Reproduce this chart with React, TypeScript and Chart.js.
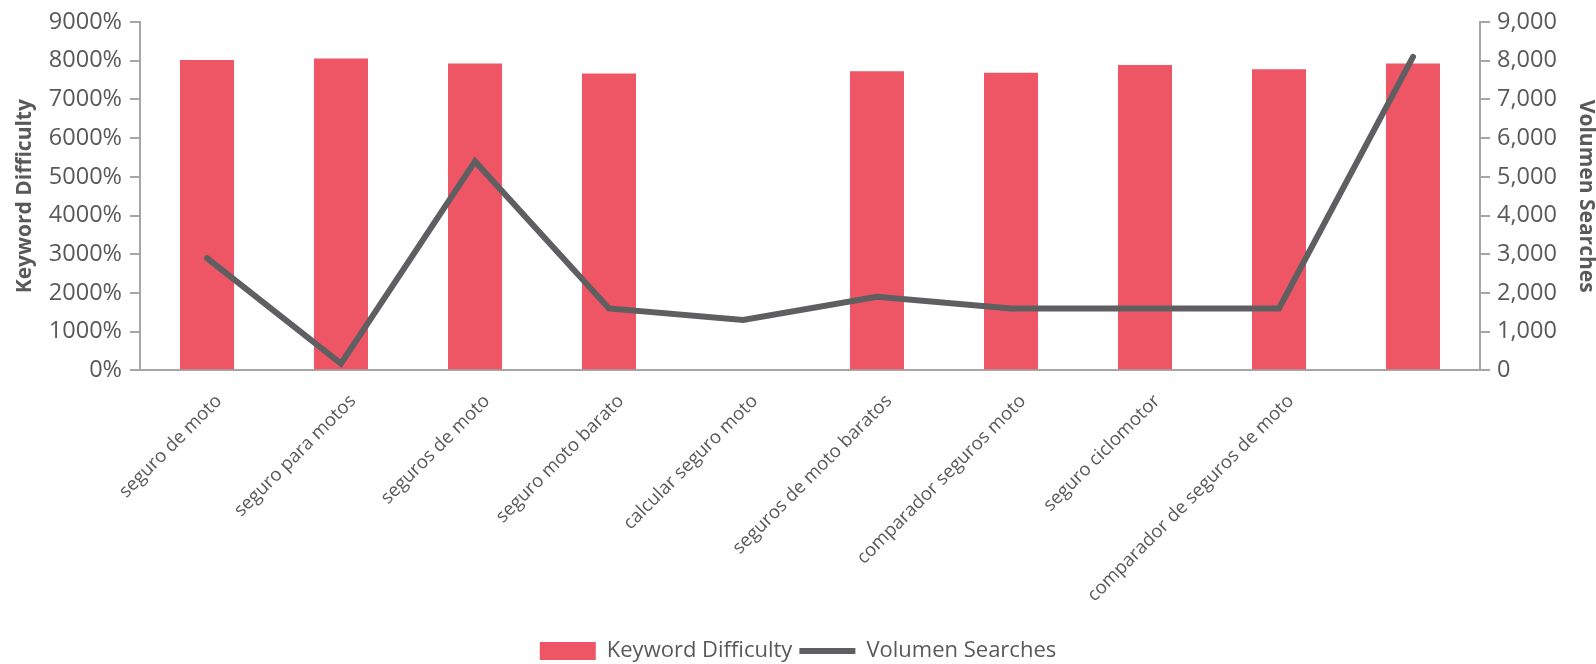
import React, { useEffect, useRef } from "react";
import { Chart, registerables } from "chart.js";

Chart.register(...registerables);

const categories = [
  "seguro de moto",
  "seguro para motos",
  "seguros de moto",
  "seguro moto barato",
  "calcular seguro moto",
  "seguros de moto baratos",
  "comparador seguros moto",
  "seguro ciclomotor",
  "comparador de seguros de moto",
  "",
];

const keywordDifficulty: (number | null)[] = [8020, 8060, 7930, 7670, null, 7730, 7690, 7890, 7780, 7930];
const volumenSearches = [2900, 170, 5400, 1600, 1300, 1900, 1600, 1600, 1600, 8100];

const leftTicks = [0, 1000, 2000, 3000, 4000, 5000, 6000, 7000, 8000, 9000];
const rightTicks = [0, 1000, 2000, 3000, 4000, 5000, 6000, 7000, 8000, 9000];

const BAR_COLOR = "#EE5666";
const LINE_COLOR = "#5F5F62";
const AXIS_COLOR = "#A6A6A6";
const TEXT_COLOR = "#595959";

export default function App() {
  const canvasRef = useRef<HTMLCanvasElement | null>(null);

  useEffect(() => {
    document.body.style.margin = "0";
    const canvas = canvasRef.current;
    if (!canvas) return;
    Chart.defaults.font.family = "'Open Sans', sans-serif";
    Chart.defaults.color = TEXT_COLOR;

    const chart = new Chart(canvas, {
      type: "bar",
      data: {
        labels: categories,
        datasets: [
          {
            type: "bar",
            label: "Keyword Difficulty",
            data: keywordDifficulty,
            backgroundColor: BAR_COLOR,
            borderWidth: 0,
            yAxisID: "y",
            categoryPercentage: 1,
            barPercentage: 0.403,
            order: 1,
            pointStyle: "rect",
          } as any,
          {
            type: "line",
            label: "Volumen Searches",
            data: volumenSearches,
            borderColor: LINE_COLOR,
            backgroundColor: LINE_COLOR,
            borderWidth: 6,
            pointRadius: 0,
            pointHoverRadius: 0,
            tension: 0,
            borderCapStyle: "round",
            borderJoinStyle: "miter",
            yAxisID: "y1",
            order: 0,
            pointStyle: "line",
            clip: false,
          } as any,
        ],
      },
      options: {
        animation: false,
        responsive: false,
        maintainAspectRatio: false,
        layout: { padding: { top: 19, left: 0, right: 0, bottom: -8 } },
        plugins: {
          tooltip: { enabled: false },
          legend: {
            position: "bottom",
            reverse: true,
            labels: {
              usePointStyle: true,
              pointStyleWidth: 56,
              boxHeight: 18,
              padding: 7,
              color: TEXT_COLOR,
              font: { size: 22 },
            },
          },
        },
        scales: {
          x: {
            grid: { display: false, drawTicks: false },
            border: { display: true, color: AXIS_COLOR, width: 2 },
            ticks: {
              minRotation: 45,
              maxRotation: 45,
              autoSkip: false,
              padding: 20,
              labelOffset: 12,
              color: TEXT_COLOR,
              font: { size: 18.5 },
            },
            afterFit: (scale: any) => {
              scale.height = 262.7;
            },
          },
          y: {
            position: "left",
            min: 0,
            max: 9000,
            afterBuildTicks: (scale: any) => {
              scale.ticks = leftTicks.map((v) => ({ value: v }));
            },
            grid: {
              drawOnChartArea: false,
              drawTicks: true,
              tickLength: 10,
              color: AXIS_COLOR,
              lineWidth: 2,
            },
            border: { display: true, color: AXIS_COLOR, width: 2 },
            ticks: {
              padding: 8,
              color: TEXT_COLOR,
              font: { size: 23.5 },
              callback: (v: any) => `${v}%`,
            },
            title: {
              display: true,
              text: "Keyword Difficulty",
              color: TEXT_COLOR,
              font: { size: 21, weight: "bold", lineHeight: 1 },
              padding: { top: 14.5, bottom: 0 },
            },
            afterFit: (scale: any) => {
              scale.width = 140;
            },
          },
          y1: {
            position: "right",
            min: 0,
            max: 9000,
            afterBuildTicks: (scale: any) => {
              scale.ticks = rightTicks.map((v) => ({ value: v }));
            },
            grid: {
              drawOnChartArea: false,
              drawTicks: true,
              tickLength: 10,
              color: AXIS_COLOR,
              lineWidth: 2,
            },
            border: { display: true, color: AXIS_COLOR, width: 2 },
            ticks: {
              padding: 7,
              color: TEXT_COLOR,
              font: { size: 23.5 },
              callback: (v: any) => Number(v).toLocaleString("en-US"),
            },
            title: {
              display: true,
              text: "Volumen Searches",
              color: TEXT_COLOR,
              font: { size: 21, weight: "bold", lineHeight: 1 },
              padding: { top: 0, bottom: 0 },
            },
            afterFit: (scale: any) => {
              scale.width = 116;
            },
          },
        },
      },
    });

    return () => {
      chart.destroy();
    };
  }, []);

  return (
    <div style={{ position: "fixed", left: 0, top: 0, width: 1596, height: 664, background: "#fff" }}>
      <canvas ref={canvasRef} width={1596} height={664} style={{ display: "block", width: 1596, height: 664 }} />
    </div>
  );
}
